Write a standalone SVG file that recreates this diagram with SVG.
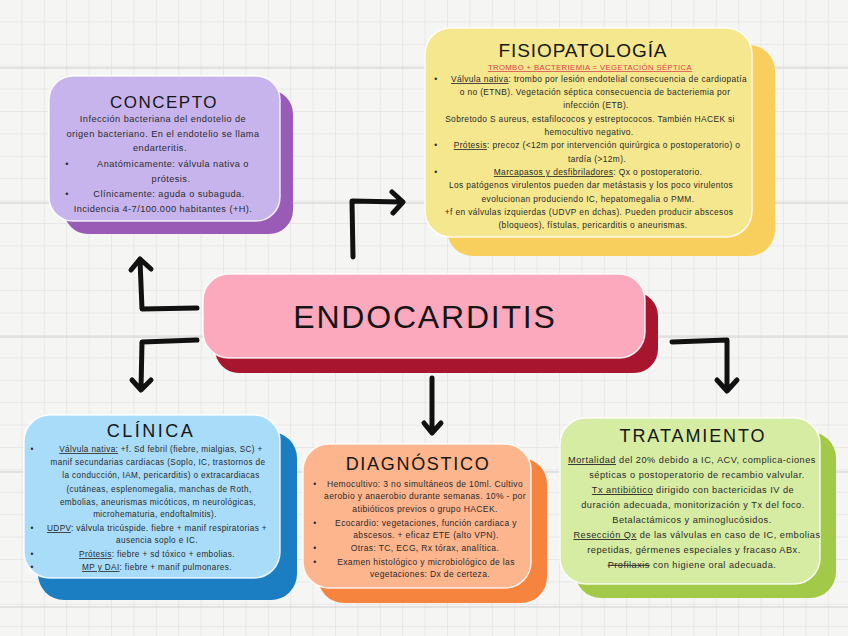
<svg xmlns="http://www.w3.org/2000/svg" width="848" height="636" viewBox="0 0 848 636">
<defs>
<pattern id="grid" x="0" y="0" width="22.4" height="22.4" patternUnits="userSpaceOnUse">
<path d="M22.4,0 V22.4 M0,22.4 H22.4" fill="none" stroke="#dcdcdc" stroke-width="1"/>
</pattern>
<style>
.t{font-family:"Liberation Sans",Arial,sans-serif;fill:#161616;text-anchor:middle}
.b{font-family:"Liberation Sans",Arial,sans-serif;fill:#2a2a2a;text-anchor:middle}
.u{text-decoration:underline}
.s{text-decoration:line-through}
.front{stroke:#ffffff;stroke-width:1.5;stroke-opacity:0.85}
.arrow{fill:none;stroke:#111;stroke-width:5;stroke-linecap:round;stroke-linejoin:round}
</style>
</defs>
<rect x="0" y="0" width="848" height="636" fill="#f5f5f3"/>
<rect x="0" y="0" width="848" height="636" fill="url(#grid)"/>
<path d="M0,68 H848 M0,203 H848 M0,337 H848 M0,472 H848 M0,607 H848" stroke="#d0d0d0" stroke-width="1.2"/>

<g id="connectors">
<path class="arrow" d="M197,308 L142,309 L140,260 M131,270 L140,259 L151,269"/>
<path class="arrow" d="M197,340 L142,342 L141,389 M132,380 L141,390 L151,380"/>
<path class="arrow" d="M353,257 L352,201 L401,202 M392,192 L403,202 L393,213"/>
<path class="arrow" d="M432,378 L432,432 M424,423 L432,433 L441,423"/>
<path class="arrow" d="M672,342 L727,340 L727,389 M717,380 L727,391 L737,380"/>
</g>

<g id="concepto">
<rect x="64" y="90" width="229" height="144" rx="24" fill="#9a5bb7"/>
<rect class="front" x="49" y="76" width="231" height="145" rx="24" fill="#c8b4ed"/>
<text class="t" x="164" y="108" font-size="17" letter-spacing="1.5">CONCEPTO</text>
<g class="b" font-size="9.2" letter-spacing="0.45">
<text x="163" y="122">Infección bacteriana del endotelio de</text>
<text x="163" y="137">origen bacteriano. En el endotelio se llama</text>
<text x="160" y="151">endarteritis.</text>
<text x="67" y="167">•</text>
<text x="173" y="167">Anatómicamente: válvula nativa o</text>
<text x="171" y="182">prótesis.</text>
<text x="67" y="197">•</text>
<text x="169" y="197">Clínicamente: aguda o subaguda.</text>
<text x="163" y="212">Incidencia 4-7/100.000 habitantes (+H).</text>
</g>
</g>

<g id="fisiopatologia">
<rect x="447" y="45" width="328" height="211" rx="26" fill="#f8cf5c"/>
<rect class="front" x="425" y="28" width="327" height="209" rx="26" fill="#f5e78d"/>
<text class="t" x="583" y="57" font-size="19" letter-spacing="0.9">FISIOPATOLOGÍA</text>
<text class="b u" x="590" y="70" font-size="7.7" letter-spacing="0.4" style="fill:#d8404c">TROMBO + BACTERIEMIA = VEGETACIÓN SÉPTICA</text>
<g class="b" font-size="8.4" letter-spacing="0.38">
<text x="436" y="82">•</text>
<text x="599" y="82"><tspan class="u">Válvula nativa</tspan>: trombo por lesión endotelial consecuencia de cardiopatía</text>
<text x="595" y="95">o no (ETNB). Vegetación séptica consecuencia de bacteriemia por</text>
<text x="596" y="108">infección (ETB).</text>
<text x="590" y="122">Sobretodo S aureus, estafilococos y estreptococos. También HACEK si</text>
<text x="589" y="135">hemocultivo negativo.</text>
<text x="436" y="148">•</text>
<text x="597" y="148"><tspan class="u">Prótesis</tspan>: precoz (&lt;12m por intervención quirúrgica o postoperatorio) o</text>
<text x="597" y="162">tardía (&gt;12m).</text>
<text x="436" y="175">•</text>
<text x="598" y="175"><tspan class="u">Marcapasos y desfibriladores</tspan>: Qx o postoperatorio.</text>
<text x="591" y="188">Los patógenos virulentos pueden dar metástasis y los poco virulentos</text>
<text x="588" y="202">evolucionan produciendo IC, hepatomegalia o PMM.</text>
<text x="589" y="215">+f en válvulas izquierdas (UDVP en dchas). Pueden producir abscesos</text>
<text x="593" y="228">(bloqueos), fístulas, pericarditis o aneurismas.</text>
</g>
</g>

<g id="endocarditis">
<rect x="215" y="292" width="443" height="81" rx="24" fill="#a8152e"/>
<rect class="front" x="203" y="274" width="442" height="84" rx="26" fill="#fca9bd"/>
<text class="t" x="425" y="328" font-size="32" letter-spacing="1.8">ENDOCARDITIS</text>
</g>

<g id="clinica">
<rect x="38" y="432" width="259" height="168" rx="26" fill="#1b7ec2"/>
<rect class="front" x="24" y="415" width="256" height="163" rx="26" fill="#a8dcf8"/>
<text class="t" x="151" y="437" font-size="18" letter-spacing="2.5">CLÍNICA</text>
<g class="b" font-size="8.2" letter-spacing="0.38">
<text x="32" y="452">•</text>
<text x="161" y="452"><tspan class="u">Válvula nativa:</tspan> +f. Sd febril (fiebre, mialgias, SC) +</text>
<text x="158" y="465">manif secundarias cardiacas (Soplo, IC, trastornos de</text>
<text x="161" y="478">la conducción, IAM, pericarditis) o extracardiacas</text>
<text x="159" y="492">(cutáneas, esplenomegalia, manchas de Roth,</text>
<text x="158" y="505">embolias, aneurismas micóticos, m neurológicas,</text>
<text x="155" y="517">microhematuria, endoftalmitis).</text>
<text x="32" y="531">•</text>
<text x="157" y="531"><tspan class="u">UDPV</tspan>: válvula tricúspide. fiebre + manif respiratorias +</text>
<text x="157" y="543">ausencia soplo e IC.</text>
<text x="32" y="557">•</text>
<text x="157" y="557"><tspan class="u">Prótesis</tspan>: fiebre + sd tóxico + embolias.</text>
<text x="32" y="570">•</text>
<text x="157" y="570"><tspan class="u">MP y DAI</tspan>: fiebre + manif pulmonares.</text>
</g>
</g>

<g id="diagnostico">
<rect x="318" y="458" width="229" height="145" rx="26" fill="#f6843e"/>
<rect class="front" x="303" y="444" width="228" height="144" rx="26" fill="#fdb58d"/>
<text class="t" x="418" y="470" font-size="18" letter-spacing="1.7">DIAGNÓSTICO</text>
<g class="b" font-size="8.5" letter-spacing="0.37">
<text x="315" y="487">•</text>
<text x="425" y="487">Hemocultivo: 3 no simultáneos de 10ml. Cultivo</text>
<text x="425" y="499">aerobio y anaerobio durante semanas. 10% - por</text>
<text x="425" y="512">atibióticos previos o grupo HACEK.</text>
<text x="315" y="526">•</text>
<text x="426" y="526">Ecocardio: vegetaciones, función cardiaca y</text>
<text x="426" y="538">abscesos. + eficaz ETE (alto VPN).</text>
<text x="315" y="551">•</text>
<text x="425" y="551">Otras: TC, ECG, Rx tórax, analítica.</text>
<text x="315" y="565">•</text>
<text x="426" y="565">Examen histológico y microbiológico de las</text>
<text x="430" y="577">vegetaciones: Dx de certeza.</text>
</g>
</g>

<g id="tratamiento">
<rect x="575" y="432" width="261" height="166" rx="26" fill="#a2c947"/>
<rect class="front" x="560" y="418" width="260" height="166" rx="26" fill="#d6eca2"/>
<text class="t" x="693" y="442" font-size="18" letter-spacing="1.9">TRATAMIENTO</text>
<g class="b" font-size="9.2" letter-spacing="0.5">
<text x="692" y="463"><tspan class="u">Mortalidad</tspan> del 20% debido a IC, ACV, complica-ciones</text>
<text x="697" y="478">sépticas o postoperatorio de recambio valvular.</text>
<text x="693" y="493"><tspan class="u">Tx antibiótico</tspan> dirigido con bactericidas IV de</text>
<text x="693" y="508">duración adecuada, monitorización y Tx del foco.</text>
<text x="692" y="523">Betalactámicos y aminoglucósidos.</text>
<text x="697" y="538"><tspan class="u">Resección Qx</tspan> de las válvulas en caso de IC, embolias</text>
<text x="694" y="553">repetidas, gérmenes especiales y fracaso ABx.</text>
<text x="692" y="568"><tspan class="s">Profilaxis</tspan> con higiene oral adecuada.</text>
</g>
</g>
</svg>
